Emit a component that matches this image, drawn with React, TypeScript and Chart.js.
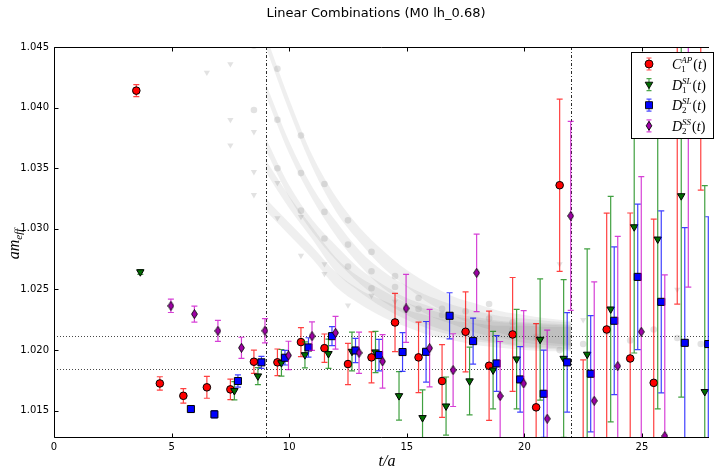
import React, { useEffect, useRef } from "react";
import { Chart, registerables } from "chart.js";
Chart.register(...registerables);

const TITLE = "Linear Combinations (M0 lh_0.68)";
const X_TICKS = [0, 5, 10, 15, 20, 25];
const Y_TICKS = [1.015, 1.02, 1.025, 1.03, 1.035, 1.04, 1.045];
const X_MIN = 0;
const X_MAX = 27.85;
const Y_MIN = 1.01275;
const Y_MAX = 1.045;
const FIT_WINDOW = [9, 22];
const PLATEAU_LINES = [1.0212, 1.0184];

// C1^AP(t)
const c1apX = [3.5, 4.5, 5.5, 6.5, 7.5, 8.5, 9.5, 10.5, 11.5, 12.5, 13.5, 14.5, 15.5, 16.5, 17.5, 18.5, 19.5, 20.5, 21.5, 22.5, 23.5, 24.5, 25.5, 26.5, 27.5];
const c1apY = [1.0414, 1.01725, 1.01623, 1.01693, 1.01676, 1.01904, 1.01899, 1.02066, 1.02016, 1.01885, 1.0194, 1.02228, 1.0194, 1.01745, 1.02151, 1.01871, 1.02129, 1.01528, 1.0336, 1.0118, 1.0217, 1.01931, 1.0173, 1.047, 1.0475];
const c1apErr = [0.0005, 0.00055, 0.0006, 0.0009, 0.00085, 0.00096, 0.0011, 0.0012, 0.00117, 0.0017, 0.0021, 0.0024, 0.0029, 0.003, 0.0033, 0.0045, 0.0047, 0.0069, 0.0071, 0.0074, 0.0096, 0.012, 0.0135, 0.0232, 0.0143];

// D1^SL(t)
const d1slX = [3.67, 7.67, 8.67, 9.67, 10.67, 11.67, 12.67, 13.67, 14.67, 15.67, 16.67, 17.67, 18.67, 19.67, 20.67, 21.67, 22.67, 23.67, 24.67, 25.67, 26.67, 27.67];
const d1slY = [1.02645, 1.01665, 1.01786, 1.01895, 1.01961, 1.0197, 1.01989, 1.01984, 1.01623, 1.01442, 1.01538, 1.01745, 1.01835, 1.01926, 1.02088, 1.01931, 1.01965, 1.02338, 1.03016, 1.02915, 1.03272, 1.01657];
const d1slErr = [0.0002, 0.00075, 0.0007, 0.0011, 0.00107, 0.0012, 0.0016, 0.0017, 0.002, 0.0023, 0.0024, 0.0028, 0.0032, 0.0041, 0.005, 0.0065, 0.0087, 0.0093, 0.0104, 0.014, 0.0166, 0.017];

// D2^SL(t)
const d2slX = [5.82, 6.82, 7.82, 8.82, 9.82, 10.82, 11.82, 12.82, 13.82, 14.82, 15.82, 16.82, 17.82, 18.82, 19.82, 20.82, 21.82, 22.82, 23.82, 24.82, 25.82, 26.82, 27.82];
const d2slY = [1.01514, 1.0147, 1.01745, 1.01899, 1.01937, 1.02022, 1.02115, 1.01997, 1.01959, 1.01984, 1.01986, 1.02283, 1.02074, 1.0189, 1.01758, 1.0164, 1.01899, 1.01805, 1.02242, 1.02604, 1.02398, 1.0206, 1.0205];
const d2slErr = [0.00025, 0.0003, 0.0005, 0.0005, 0.0006, 0.0008, 0.00078, 0.001, 0.0013, 0.0016, 0.0025, 0.0019, 0.0019, 0.0023, 0.0027, 0.0036, 0.0041, 0.0048, 0.0061, 0.006, 0.0075, 0.0095, 0.0105];

// D2^SS(t)
const d2ssX = [4.97, 5.97, 6.97, 7.97, 8.97, 9.97, 10.97, 11.97, 12.97, 13.97, 14.97, 15.97, 16.97, 17.97, 18.97, 19.97, 20.97, 21.97, 22.97, 23.97, 24.97, 25.97, 26.97];
const d2ssY = [1.02365, 1.02297, 1.02159, 1.02019, 1.0216, 1.01956, 1.02115, 1.02143, 1.01978, 1.01907, 1.02344, 1.02016, 1.01835, 1.02637, 1.01621, 1.01725, 1.01434, 1.03107, 1.01582, 1.01868, 1.02151, 1.01291, 1.0465];
const d2ssErr = [0.00055, 0.00066, 0.00087, 0.00087, 0.001, 0.00117, 0.00117, 0.00135, 0.0017, 0.0022, 0.0028, 0.0032, 0.003, 0.0032, 0.0045, 0.006, 0.0073, 0.0078, 0.0098, 0.0107, 0.0128, 0.0133, 0.0213];

// faded background correlators
const grayCircX = [8.5, 8.5, 9.5, 9.5, 9.5, 10.5, 10.5, 10.5, 11.5, 11.5, 11.5, 12.5, 12.5, 12.5, 13.5, 13.5, 13.5, 14.5, 14.5, 15.5, 15.5, 16.5, 16.5, 17.5, 18.5, 18.5, 19.5, 19.5, 20.5, 21.5, 22.5, 23.5, 24.5, 25.5, 26.5, 27.5];
const grayCircY = [1.0398, 1.0451, 1.0432, 1.039, 1.035, 1.0377, 1.0346, 1.0315, 1.0337, 1.0314, 1.0292, 1.0307, 1.0287, 1.0269, 1.0281, 1.0265, 1.0251, 1.0261, 1.0252, 1.0243, 1.0234, 1.0234, 1.0229, 1.0232, 1.0238, 1.0226, 1.0223, 1.0217, 1.0211, 1.02, 1.0205, 1.0215, 1.0208, 1.0217, 1.021, 1.0205];
const grayTriX = [6.5, 7.5, 7.5, 7.5, 8.5, 8.5, 8.5, 9.5, 9.5, 10.5, 10.5, 11.5, 11.5, 12.5, 13.5, 14.5, 21.5, 22.5, 26.5];
const grayTriY = [1.0429, 1.0436, 1.039, 1.0369, 1.038, 1.0347, 1.0328, 1.0338, 1.0309, 1.031, 1.0278, 1.0271, 1.0263, 1.0237, 1.0245, 1.024, 1.0271, 1.0225, 1.025];

const bandX = [9, 10, 11, 12, 13, 14, 15, 16, 17, 18, 19, 20, 21, 22];
const bandA = [1.0455, 1.0402, 1.0355, 1.032, 1.0295, 1.0275, 1.0259, 1.0246, 1.0236, 1.0229, 1.0223, 1.0219, 1.0216, 1.0214];
const bandB = [1.0415, 1.0367, 1.0329, 1.03, 1.0276, 1.0258, 1.0246, 1.0236, 1.0229, 1.0223, 1.0219, 1.0216, 1.0214, 1.0213];
const bandC = [1.037, 1.0331, 1.0302, 1.028, 1.0261, 1.0247, 1.0236, 1.0228, 1.0222, 1.0218, 1.0215, 1.0213, 1.0212, 1.0211];
const bandD = [1.0352, 1.0322, 1.0296, 1.027, 1.0254, 1.0242, 1.0232, 1.0225, 1.022, 1.0216, 1.0214, 1.0212, 1.0211, 1.021];
const bandE = [1.032, 1.03, 1.028, 1.0258, 1.0244, 1.0234, 1.0226, 1.022, 1.0216, 1.0213, 1.0211, 1.021, 1.0209, 1.0209];
const bandHalf = [0.0005, 0.0005, 0.0005, 0.0006, 0.0006, 0.0007, 0.0007, 0.0008, 0.0008, 0.0009, 0.0009, 0.001, 0.001, 0.001];

const pts = (xs: number[], ys: number[]) => xs.map((x, i) => ({ x, y: ys[i] }));

function makeDiamond(fill: string) {
  const c = document.createElement("canvas");
  c.width = 7;
  c.height = 10;
  const g = c.getContext("2d")!;
  g.beginPath();
  g.moveTo(3.5, 0.5);
  g.lineTo(6.4, 5);
  g.lineTo(3.5, 9.5);
  g.lineTo(0.6, 5);
  g.closePath();
  g.fillStyle = fill;
  g.fill();
  g.strokeStyle = "#000";
  g.lineWidth = 0.9;
  g.stroke();
  return c;
}

const errorBarPlugin = {
  id: "errorBars",
  beforeDatasetDraw(chart: any, args: any) {
    const ds = chart.data.datasets[args.index];
    if (!ds.errors) return;
    const meta = chart.getDatasetMeta(args.index);
    const ys = chart.scales.y;
    const ctx = chart.ctx;
    const a = chart.chartArea;
    ctx.save();
    ctx.beginPath();
    ctx.rect(a.left, a.top, a.right - a.left, a.bottom - a.top);
    ctx.clip();
    ctx.strokeStyle = ds.errorColor;
    ctx.lineWidth = 1.2;
    meta.data.forEach((p: any, i: number) => {
      const v = ds.data[i].y;
      const e = ds.errors[i];
      const x = p.x;
      const y1 = ys.getPixelForValue(v + e);
      const y2 = ys.getPixelForValue(v - e);
      ctx.beginPath();
      ctx.moveTo(x, y1);
      ctx.lineTo(x, y2);
      ctx.moveTo(x - 3, y1);
      ctx.lineTo(x + 3, y1);
      ctx.moveTo(x - 3, y2);
      ctx.lineTo(x + 3, y2);
      ctx.stroke();
    });
    ctx.restore();
  },
};

const refLinesPlugin = {
  id: "refLines",
  beforeDatasetsDraw(chart: any) {
    const { ctx, chartArea: a, scales } = chart;
    ctx.save();
    ctx.strokeStyle = "rgba(40,40,40,0.85)";
    ctx.lineWidth = 1;
    ctx.setLineDash([1, 2]);
    PLATEAU_LINES.forEach((v) => {
      const y = Math.round(scales.y.getPixelForValue(v)) + 0.5;
      ctx.beginPath();
      ctx.moveTo(a.left, y);
      ctx.lineTo(a.right, y);
      ctx.stroke();
    });
    ctx.setLineDash([3, 2, 1, 2]);
    ctx.strokeStyle = "rgba(20,20,20,0.9)";
    FIT_WINDOW.forEach((v) => {
      const x = Math.round(scales.x.getPixelForValue(v)) + 0.5;
      ctx.beginPath();
      ctx.moveTo(x, a.top);
      ctx.lineTo(x, a.bottom);
      ctx.stroke();
    });
    ctx.restore();
  },
};

function legendMarker(ctx: CanvasRenderingContext2D, kind: string, x: number, y: number, fill: string, bar: string) {
  ctx.strokeStyle = bar;
  ctx.lineWidth = 1.2;
  ctx.beginPath();
  ctx.moveTo(x, y - 6);
  ctx.lineTo(x, y + 6);
  ctx.moveTo(x - 2.5, y - 6);
  ctx.lineTo(x + 2.5, y - 6);
  ctx.moveTo(x - 2.5, y + 6);
  ctx.lineTo(x + 2.5, y + 6);
  ctx.stroke();
  ctx.beginPath();
  if (kind === "circle") ctx.arc(x, y, 4, 0, Math.PI * 2);
  else if (kind === "tri") {
    ctx.moveTo(x - 3.8, y - 2.4);
    ctx.lineTo(x + 3.8, y - 2.4);
    ctx.lineTo(x, y + 4);
    ctx.closePath();
  } else if (kind === "square") ctx.rect(x - 3.5, y - 3.5, 7, 7);
  else {
    ctx.moveTo(x, y - 4.5);
    ctx.lineTo(x + 2.8, y);
    ctx.lineTo(x, y + 4.5);
    ctx.lineTo(x - 2.8, y);
    ctx.closePath();
  }
  ctx.fillStyle = fill;
  ctx.fill();
  ctx.strokeStyle = "#000";
  ctx.lineWidth = 0.9;
  ctx.stroke();
}

const LEGEND = [
  { main: "C", sub: "1", sup: "AP", kind: "circle", fill: "#ff0000", bar: "rgba(255,0,0,0.7)" },
  { main: "D", sub: "1", sup: "SL", kind: "tri", fill: "#006d00", bar: "rgba(0,128,0,0.7)" },
  { main: "D", sub: "2", sup: "SL", kind: "square", fill: "#0000ff", bar: "rgba(0,0,255,0.7)" },
  { main: "D", sub: "2", sup: "SS", kind: "diamond", fill: "#a000a8", bar: "rgba(200,0,200,0.7)" },
];

const decorPlugin = {
  id: "decor",
  afterDraw(chart: any) {
    const { ctx, chartArea: a, scales } = chart;
    ctx.save();
    // frame
    ctx.strokeStyle = "#000";
    ctx.lineWidth = 1;
    const L = Math.round(a.left) + 0.5;
    const T = Math.round(a.top) + 0.5;
    const B = Math.round(a.bottom) - 0.5;
    ctx.beginPath();
    ctx.moveTo(a.right, T);
    ctx.lineTo(L, T);
    ctx.lineTo(L, B);
    ctx.lineTo(a.right, B);
    ctx.stroke();
    // inward ticks
    ctx.beginPath();
    X_TICKS.forEach((v) => {
      const x = Math.round(scales.x.getPixelForValue(v)) + 0.5;
      ctx.moveTo(x, B);
      ctx.lineTo(x, B - 4);
      ctx.moveTo(x, T);
      ctx.lineTo(x, T + 4);
    });
    Y_TICKS.forEach((v) => {
      const y = Math.round(scales.y.getPixelForValue(v)) + 0.5;
      ctx.moveTo(L, y);
      ctx.lineTo(L + 4, y);
    });
    ctx.stroke();

    // title
    ctx.fillStyle = "#000";
    ctx.font = '13px "DejaVu Sans"';
    ctx.textAlign = "center";
    ctx.textBaseline = "middle";
    ctx.fillText(TITLE, 376, 14);

    // x title
    ctx.font = 'italic 16px "Liberation Serif"';
    ctx.fillText("t/a", 387, 462);

    // y title
    ctx.save();
    ctx.translate(15, 244);
    ctx.rotate(-Math.PI / 2);
    ctx.textAlign = "left";
    ctx.font = 'italic 16px "Liberation Serif"';
    const wAm = ctx.measureText("am").width;
    ctx.font = 'italic 11px "Liberation Serif"';
    const wEff = ctx.measureText("eff").width;
    const start = -(wAm + wEff) / 2;
    ctx.font = 'italic 16px "Liberation Serif"';
    ctx.fillText("am", start, 0);
    ctx.font = 'italic 11px "Liberation Serif"';
    ctx.fillText("eff", start + wAm, 4);
    ctx.restore();

    // legend
    const lx = 631.5, ly = 52.5, lw = 82, lh = 86;
    ctx.fillStyle = "#fff";
    ctx.fillRect(lx, ly, lw, lh);
    ctx.strokeStyle = "#000";
    ctx.lineWidth = 1;
    ctx.strokeRect(lx, ly, lw, lh);
    LEGEND.forEach((e, i) => {
      const cy = 64 + i * 20.6;
      legendMarker(ctx, e.kind, 649, cy, e.fill, e.bar);
      ctx.fillStyle = "#000";
      ctx.textAlign = "left";
      ctx.textBaseline = "alphabetic";
      let x = 672;
      ctx.font = 'italic 14px "Liberation Serif"';
      ctx.fillText(e.main, x, cy + 5);
      x += ctx.measureText(e.main).width;
      ctx.font = '9px "Liberation Serif"';
      const ws = ctx.measureText(e.sub).width;
      ctx.fillText(e.sub, x, cy + 8);
      ctx.font = 'italic 9px "Liberation Serif"';
      const wp = ctx.measureText(e.sup).width;
      ctx.fillText(e.sup, x, cy - 1);
      x += Math.max(ws, wp) + 1;
      ctx.font = '14px "Liberation Serif"';
      ctx.fillText("(", x, cy + 5);
      x += ctx.measureText("(").width;
      ctx.font = 'italic 14px "Liberation Serif"';
      ctx.fillText("t", x, cy + 5);
      x += ctx.measureText("t").width;
      ctx.font = '14px "Liberation Serif"';
      ctx.fillText(")", x, cy + 5);
    });
    ctx.restore();
  },
};

export default function App() {
  const ref = useRef<HTMLCanvasElement>(null);
  useEffect(() => {
    document.body.style.margin = "0";
    const canvas = ref.current!;
    const bandSets = [bandA, bandB, bandC, bandD, bandE];
    const bandDatasets: any[] = [];
    bandSets.forEach((b, k) => {
      bandDatasets.push({
        type: "line",
        data: bandX.map((x, i) => ({ x, y: b[i] + bandHalf[i] })),
        showLine: true,
        borderWidth: 0,
        pointRadius: 0,
        cubicInterpolationMode: "monotone",
        backgroundColor: "rgba(110,110,110,0.11)",
        fill: "+1",
        order: 10 + k,
      });
      bandDatasets.push({
        type: "line",
        data: bandX.map((x, i) => ({ x, y: b[i] - bandHalf[i] })),
        showLine: true,
        borderWidth: 0,
        pointRadius: 0,
        cubicInterpolationMode: "monotone",
        fill: false,
        order: 10 + k,
      });
    });

    const chart = new Chart(canvas, {
      type: "scatter",
      data: {
        datasets: [
          {
            label: "D2SS",
            data: pts(d2ssX, d2ssY),
            errors: d2ssErr,
            errorColor: "rgba(200,0,200,0.75)",
            pointStyle: makeDiamond("#a000a8"),
            order: 0,
          },
          {
            label: "D2SL",
            data: pts(d2slX, d2slY),
            errors: d2slErr,
            errorColor: "rgba(0,0,255,0.75)",
            pointStyle: "rect",
            pointRadius: 5,
            backgroundColor: "#0000ff",
            borderColor: "#000",
            borderWidth: 1,
            order: 1,
          },
          {
            label: "D1SL",
            data: pts(d1slX, d1slY),
            errors: d1slErr,
            errorColor: "rgba(0,128,0,0.75)",
            pointStyle: "triangle",
            rotation: 180,
            pointRadius: 4.3,
            backgroundColor: "#006d00",
            borderColor: "#000",
            borderWidth: 1,
            order: 2,
          },
          {
            label: "C1AP",
            data: pts(c1apX, c1apY),
            errors: c1apErr,
            errorColor: "rgba(255,0,0,0.75)",
            pointStyle: "circle",
            pointRadius: 3.8,
            backgroundColor: "#ff0000",
            borderColor: "#000",
            borderWidth: 1,
            order: 3,
          },
          {
            label: "grayCirc",
            data: pts(grayCircX, grayCircY),
            pointStyle: "circle",
            pointRadius: 3.3,
            backgroundColor: "rgba(150,150,150,0.28)",
            borderWidth: 0,
            order: 5,
          },
          {
            label: "grayTri",
            data: pts(grayTriX, grayTriY),
            pointStyle: "triangle",
            rotation: 180,
            pointRadius: 3.6,
            backgroundColor: "rgba(150,150,150,0.28)",
            borderWidth: 0,
            order: 6,
          },
          ...bandDatasets,
        ] as any,
      },
      options: {
        responsive: false,
        animation: false,
        events: [],
        layout: { padding: { top: 47, right: 0, bottom: 0, left: 0 } },
        plugins: {
          legend: { display: false },
          tooltip: { enabled: false },
          title: { display: false },
        },
        scales: {
          x: {
            type: "linear",
            min: X_MIN,
            max: X_MAX,
            grid: { display: false, drawTicks: false },
            border: { display: false },
            ticks: {
              padding: 3,
              color: "#000",
              autoSkip: false,
              maxRotation: 0,
              font: { family: "DejaVu Sans", size: 10 },
            },
            afterBuildTicks: (s: any) => {
              s.ticks = X_TICKS.map((v) => ({ value: v }));
            },
            afterFit: (s: any) => {
              s.height = 32;
            },
          },
          y: {
            type: "linear",
            min: Y_MIN,
            max: Y_MAX,
            grid: { display: false, drawTicks: false },
            border: { display: false },
            ticks: {
              padding: 5,
              color: "#000",
              autoSkip: false,
              font: { family: "DejaVu Sans", size: 10 },
              callback: (v: any) => Number(v).toFixed(3),
            },
            afterBuildTicks: (s: any) => {
              s.ticks = Y_TICKS.map((v) => ({ value: v }));
            },
            afterFit: (s: any) => {
              s.width = 54;
            },
          },
        },
      } as any,
      plugins: [refLinesPlugin, errorBarPlugin, decorPlugin],
    });
    return () => chart.destroy();
  }, []);
  return <canvas ref={ref} width={715} height={470} style={{ display: "block" }} />;
}
